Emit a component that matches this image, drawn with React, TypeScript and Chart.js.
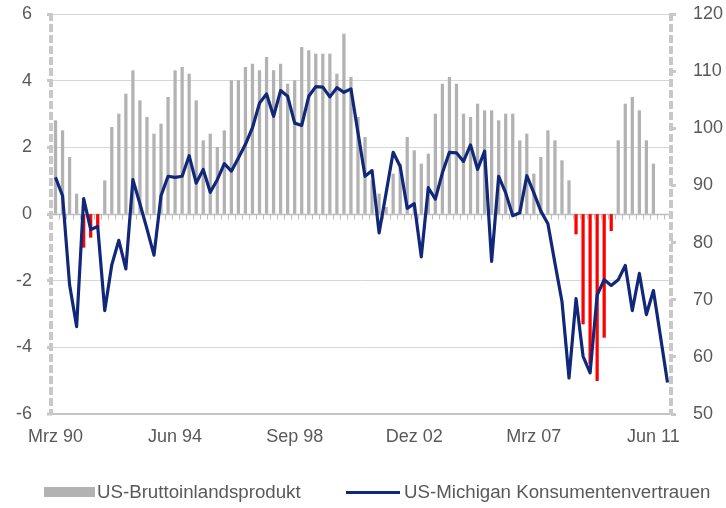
import React, { useEffect, useRef } from 'react';
import { Chart, registerables } from 'chart.js';

Chart.register(...registerables);

// Quarterly categories Mrz 90 .. Dez 11
const QUARTER_NAMES = ['Mrz', 'Jun', 'Sep', 'Dez'];
const FIRST_YEAR = 1990;
const QUARTER_COUNT = 88;
const categories: string[] = Array.from({ length: QUARTER_COUNT }, (_, i) =>
  `${QUARTER_NAMES[i % 4]} ${String((FIRST_YEAR + Math.floor(i / 4)) % 100).padStart(2, '0')}`
);
const LABEL_EVERY = 17;

// US GDP, % y/y (left axis)
const gdp: (number | null)[] = [
  2.8, 2.5, 1.7, 0.6, -1.0, -0.7, -0.4, 1.0,
  2.6, 3.0, 3.6, 4.3, 3.4, 2.9, 2.4, 2.7,
  3.5, 4.3, 4.4, 4.2, 3.4, 2.2, 2.4, 2.0,
  2.5, 4.0, 4.0, 4.4, 4.5, 4.3, 4.7, 4.3,
  4.5, 3.9, 4.0, 5.0, 4.9, 4.8, 4.8, 4.8,
  4.2, 5.4, 4.1, 2.9, 2.3, 1.0, 0.6, 0.2,
  1.2, 1.5, 2.3, 1.9, 1.5, 1.8, 3.0, 3.9,
  4.1, 3.9, 3.0, 2.9, 3.3, 3.1, 3.1, 2.8,
  3.0, 3.0, 2.2, 2.4, 1.2, 1.7, 2.5, 2.2,
  1.6, 1.0, -0.6, -3.3, -4.5, -5.0, -3.7, -0.5,
  2.2, 3.3, 3.5, 3.1, 2.2, 1.5, null, null,
];

// University of Michigan consumer sentiment (right axis)
const michigan: number[] = [
  91.4, 88.2, 72.6, 65.3, 87.7, 82.3, 82.8, 68.1,
  76.1, 80.4, 75.4, 91.0, 86.8, 82.4, 77.8, 88.2,
  91.6, 91.4, 91.6, 95.2, 90.4, 92.8, 88.8, 91.0,
  93.8, 92.5, 94.8, 97.2, 100.1, 104.4, 106.0, 102.1,
  106.6, 105.6, 100.9, 100.5, 105.6, 107.3, 107.2, 105.5,
  107.1, 106.3, 106.9, 99.2, 91.6, 92.6, 81.7, 88.7,
  95.8, 93.3, 86.0, 86.8, 77.5, 89.6, 87.6, 92.2,
  95.8, 95.7, 94.2, 97.1, 92.8, 96.0, 76.7, 91.6,
  88.7, 84.7, 85.2, 91.7, 88.7, 85.5, 83.3, 76.4,
  69.7, 56.3, 70.2, 60.1, 57.2, 70.8, 73.5, 72.5,
  73.5, 76.0, 68.1, 74.6, 67.4, 71.6, 63.6, 55.5,
];

const LEGEND_GDP = 'US-Bruttoinlandsprodukt';
const LEGEND_MICH = 'US-Michigan Konsumentenvertrauen';

const GRAY_BAR = '#b2b2b2';
const RED_BAR = '#ff0000';
const NAVY = '#11287a';
const AXIS_GRAY = '#c8c8c8';
const TEXT = '#595959';
const FONT = '"Liberation Sans", Arial, sans-serif';

const axesPlugin = {
  id: 'excelAxes',
  beforeDatasetsDraw(chart: any) {
    const { ctx, chartArea } = chart;
    const { left, right, top, bottom } = chartArea;
    ctx.save();
    // zero line with category tick marks
    const y0 = Math.round(chart.scales.y.getPixelForValue(0)) + 0.5;
    ctx.strokeStyle = '#bdbdbd';
    ctx.lineWidth = 1.3;
    ctx.beginPath();
    ctx.moveTo(left, y0);
    ctx.lineTo(right, y0);
    ctx.stroke();
    const n = chart.data.labels.length;
    const step = (right - left) / n;
    ctx.lineWidth = 1;
    ctx.beginPath();
    for (let k = 1; k < n; k++) {
      const x = Math.round(left + k * step) + 0.5;
      ctx.moveTo(x, y0);
      ctx.lineTo(x, y0 + 5);
    }
    ctx.stroke();
    // dashed vertical axes
    ctx.strokeStyle = AXIS_GRAY;
    ctx.lineWidth = 4;
    ctx.setLineDash([8, 3]);
    ctx.beginPath();
    ctx.moveTo(left - 1, top - 1);
    ctx.lineTo(left - 1, bottom + 1);
    ctx.moveTo(right, top - 1);
    ctx.lineTo(right, bottom + 1);
    ctx.stroke();
    ctx.restore();
  },
};

export default function App() {
  const canvasRef = useRef<HTMLCanvasElement | null>(null);

  useEffect(() => {
    document.body.style.margin = '0';
    const canvas = canvasRef.current;
    if (!canvas) return;
    const chart = new Chart(canvas, {
      type: 'bar',
      data: {
        labels: categories,
        datasets: [
          {
            type: 'line',
            label: LEGEND_MICH,
            data: michigan,
            yAxisID: 'y1',
            borderColor: NAVY,
            borderWidth: 3.2,
            pointRadius: 0,
            tension: 0,
            borderJoinStyle: 'round',
            order: 0,
          } as any,
          {
            type: 'bar',
            label: LEGEND_GDP,
            data: gdp,
            yAxisID: 'y',
            backgroundColor: (c: any) => (c.raw != null && c.raw < 0 ? RED_BAR : GRAY_BAR),
            barThickness: 2.6,
            order: 1,
          } as any,
        ],
      },
      options: {
        responsive: false,
        animation: false,
        devicePixelRatio: 1,
        layout: { padding: { top: 14, left: 0, right: 0, bottom: 0 } },
        plugins: {
          legend: { display: false },
          tooltip: { enabled: false },
        },
        scales: {
          x: {
            offset: true,
            grid: { display: false, drawTicks: false },
            border: { display: false },
            ticks: {
              autoSkip: false,
              maxRotation: 0,
              minRotation: 0,
              padding: 12,
              color: TEXT,
              font: { family: FONT, size: 18 },
              callback: (_v: any, i: number) => (i % LABEL_EVERY === 0 ? categories[i] : ''),
            },
            afterFit: (s: any) => {
              s.height = 94;
              s.paddingLeft = 0;
              s.paddingRight = 0;
            },
          },
          y: {
            position: 'left',
            min: -6,
            max: 6,
            ticks: {
              stepSize: 2,
              padding: 15,
              color: TEXT,
              font: { family: FONT, size: 18 },
            },
            grid: {
              color: (c: any) =>
                c.tick && c.tick.value === 0 ? 'rgba(0,0,0,0)' : c.tick && c.tick.value === -6 ? '#c4c4c4' : '#d6d6d6',
              lineWidth: (c: any) => (c.tick && c.tick.value === -6 ? 2 : 1),
              drawTicks: true,
              tickLength: 5,
              tickColor: AXIS_GRAY,
              tickWidth: 3,
            },
            border: { display: false, dash: [] },
            afterFit: (s: any) => {
              s.width = 52;
              s.paddingTop = 0;
              s.paddingBottom = 0;
            },
          },
          y1: {
            position: 'right',
            min: 50,
            max: 120,
            ticks: {
              stepSize: 10,
              padding: 17,
              color: TEXT,
              font: { family: FONT, size: 18 },
            },
            grid: {
              drawOnChartArea: false,
              drawTicks: true,
              tickLength: 5,
              color: AXIS_GRAY,
              tickColor: AXIS_GRAY,
              tickWidth: 3,
            },
            border: { display: false, dash: [] },
            afterFit: (s: any) => {
              s.width = 55;
              s.paddingTop = 0;
              s.paddingBottom = 0;
            },
          },
        },
      },
      plugins: [axesPlugin],
    });
    return () => chart.destroy();
  }, []);

  const textStyle: React.CSSProperties = {
    position: 'absolute',
    top: 481,
    height: 22,
    lineHeight: '22px',
    fontFamily: FONT,
    fontSize: 18.7,
    color: TEXT,
    whiteSpace: 'nowrap',
  };

  return (
    <div style={{ position: 'relative', width: 726, height: 508, background: '#fff' }}>
      <canvas ref={canvasRef} width={726} height={508} style={{ position: 'absolute', left: 0, top: 0 }} />
      <div style={{ position: 'absolute', left: 44, top: 487, width: 51, height: 10, background: GRAY_BAR }} />
      <div style={{ ...textStyle, left: 97 }}>{LEGEND_GDP}</div>
      <div style={{ position: 'absolute', left: 346, top: 491, width: 54, height: 3, background: NAVY }} />
      <div style={{ ...textStyle, left: 404 }}>{LEGEND_MICH}</div>
    </div>
  );
}
